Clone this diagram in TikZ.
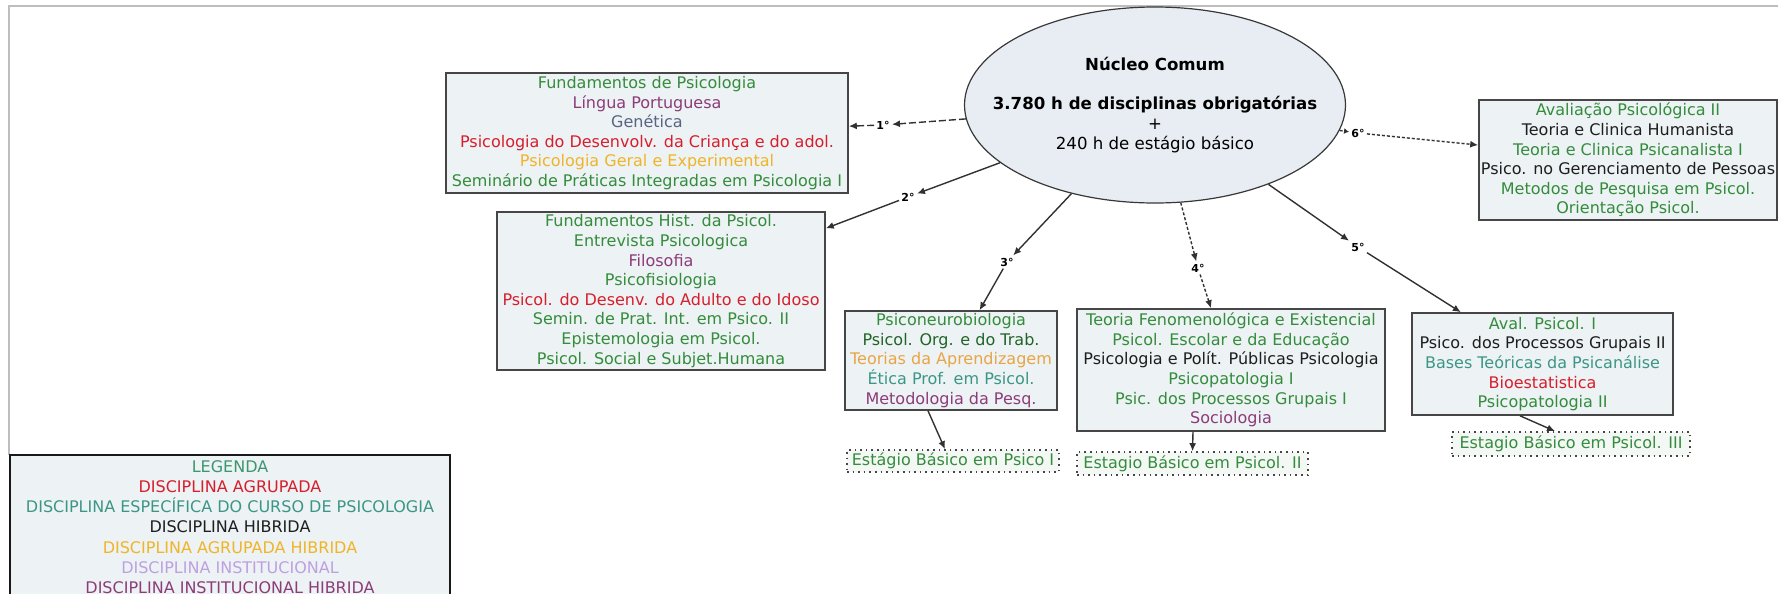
\documentclass[tikz,border=0pt]{standalone}
\usepackage{fontspec}
\setmainfont{DejaVu Sans}
\usetikzlibrary{shapes.geometric,arrows.meta}
\definecolor{cgreen}{RGB}{52,140,60}
\definecolor{cdgreen}{RGB}{34,100,40}
\definecolor{cplum}{RGB}{140,60,120}
\definecolor{cslate}{RGB}{90,100,130}
\definecolor{cred}{RGB}{215,30,45}
\definecolor{cyellow}{RGB}{240,180,40}
\definecolor{corange}{RGB}{232,165,70}
\definecolor{cteal}{RGB}{60,150,135}
\definecolor{cdark}{RGB}{30,30,30}
\definecolor{clav}{RGB}{190,160,225}
\definecolor{clegend}{RGB}{60,150,110}
\definecolor{boxfill}{RGB}{237,242,244}
\definecolor{ellfill}{RGB}{231,237,243}
\definecolor{stagefill}{RGB}{244,248,245}
\definecolor{edgec}{RGB}{70,70,70}
\definecolor{framec}{RGB}{190,190,190}
\newcommand{\tg}[1]{{\color{cgreen}#1}}
\newcommand{\tdg}[1]{{\color{cdgreen}#1}}
\newcommand{\tpl}[1]{{\color{cplum}#1}}
\newcommand{\tsl}[1]{{\color{cslate}#1}}
\newcommand{\trd}[1]{{\color{cred}#1}}
\newcommand{\tye}[1]{{\color{cyellow}#1}}
\newcommand{\tor}[1]{{\color{corange}#1}}
\newcommand{\tte}[1]{{\color{cteal}#1}}
\newcommand{\tbk}[1]{{\color{cdark}#1}}
\newcommand{\tlv}[1]{{\color{clav}#1}}
\tikzset{
 conceptbox/.style={draw=edgec, line width=0.8pt, fill=boxfill, inner sep=0pt},
 concept/.style={conceptbox, align=center, font=\fontsize{8}{9.8}\selectfont},
 stagebox/.style={draw=edgec, dotted, line width=0.8pt, fill=stagefill, inner sep=0pt, text=cgreen, font=\fontsize{8}{9.8}\selectfont},
 lbl/.style={inner sep=1pt, font=\fontsize{5.5}{6}\selectfont\bfseries},
 conn/.style={draw=edgec!70!black, line width=0.7pt, -{Latex[length=4pt,width=3.5pt]}},
 dconn/.style={conn, dash pattern=on 3.5pt off 1.5pt},
 tconn/.style={conn, dash pattern=on 1.5pt off 1pt},
}
\begin{document}
\begin{tikzpicture}[x=0.5pt,y=-0.5pt]
\useasboundingbox (0,0) rectangle (1778,594);
\draw[framec, line width=1pt] (9,455) -- (9,6) -- (1790,6);

% core ellipse
\node[ellipse, draw=edgec!80!black, line width=0.6pt, fill=ellfill, minimum width=190.5pt, minimum height=98pt, inner sep=0pt] (core) at (1155,105) {};
\node[inner sep=0pt, align=center, font=\fontsize{8.3}{9.8}\selectfont] (coretext) at (core.center)
 {\textbf{Núcleo Comum}\\[9.8pt]\textbf{3.780 h de disciplinas obrigatórias}\\+\\240 h de estágio básico};

% 1st semester
\node[concept, minimum width=201pt, minimum height=60pt] (b1) at (647,133)
 {\tg{Fundamentos de Psicologia}\\\tpl{Língua Portuguesa}\\\tsl{Genética}\\\trd{Psicologia do Desenvolv. da Criança e do adol.}\\\tye{Psicologia Geral e Experimental}\\\tg{Seminário de Práticas Integradas em Psicologia I}};

% 2nd
\node[concept, minimum width=164pt, minimum height=79pt] (b2) at (661,291)
 {\tg{Fundamentos Hist. da Psicol.}\\\tg{Entrevista Psicologica}\\\tpl{Filosofia}\\\tg{Psicofisiologia}\\\trd{Psicol. do Desenv. do Adulto e do Idoso}\\\tg{Semin. de Prat. Int. em Psico. II}\\\tg{Epistemologia em Psicol.}\\\tg{Psicol. Social e Subjet.Humana}};

% 3rd
\node[concept, minimum width=106pt, minimum height=49.5pt] (b3) at (951,360.5)
 {\tg{Psiconeurobiologia}\\\tdg{Psicol. Org. e do Trab.}\\\tor{Teorias da Aprendizagem}\\\tte{Ética Prof. em Psicol.}\\\tpl{Metodologia da Pesq.}};
\node[stagebox, minimum width=106pt, minimum height=11pt] (s1) at (953,461) {Estágio Básico em Psico I};

% 4th
\node[concept, minimum width=154pt, minimum height=61pt] (b4) at (1231,370)
 {\tg{Teoria Fenomenológica e Existencial}\\\tg{Psicol. Escolar e da Educação}\\\tbk{Psicologia e Polít. Públicas Psicologia}\\\tg{Psicopatologia I}\\\tg{Psic. dos Processos Grupais I}\\\tpl{Sociologia}};
\node[stagebox, minimum width=115.5pt, minimum height=11.5pt] (s2) at (1192.5,463.5) {Estagio Básico em Psicol. II};

% 5th
\node[concept, minimum width=130.5pt, minimum height=51pt] (b5) at (1542.5,364)
 {\tg{Aval. Psicol. I}\\\tbk{Psico. dos Processos Grupais II}\\\tte{Bases Teóricas da Psicanálise}\\\trd{Bioestatistica}\\\tg{Psicopatologia II}};
\node[stagebox, minimum width=119pt, minimum height=12pt] (s3) at (1571,444) {Estagio Básico em Psicol. III};

% 6th
\node[concept, minimum width=149pt, minimum height=60pt] (b6) at (1628,160)
 {\tg{Avaliação Psicológica II}\\\tbk{Teoria e Clinica Humanista}\\\tg{Teoria e Clinica Psicanalista I}\\\tbk{Psico. no Gerenciamento de Pessoas}\\\tg{Metodos de Pesquisa em Psicol.}\\\tg{Orientação Psicol.}};

% legend
\node[draw=black!90, line width=1.3pt, fill=boxfill, minimum width=220pt, minimum height=75pt, inner sep=0pt] (leg) at (230,530) {};
\node[inner sep=0pt, align=center, font=\fontsize{8}{10.1}\selectfont] (legtext) at (230,527)
 {{\color{clegend}LEGENDA}\\\trd{DISCIPLINA AGRUPADA}\\\tte{DISCIPLINA ESPECÍFICA DO CURSO DE PSICOLOGIA}\\\tbk{DISCIPLINA HIBRIDA}\\\tye{DISCIPLINA AGRUPADA HIBRIDA}\\\tlv{DISCIPLINA INSTITUCIONAL}\\\tpl{DISCIPLINA INSTITUCIONAL HIBRIDA}};

% linking labels
\node[lbl] (l1) at (883,125) {1°};
\node[lbl] (l2) at (908,197) {2°};
\node[lbl] (l3) at (1007,262) {3°};
\node[lbl] (l4) at (1198,268) {4°};
\node[lbl] (l5) at (1358,247) {5°};
\node[lbl] (l6) at (1358,133) {6°};

\draw[dconn] (core) -- (l1);
\draw[dconn] (l1) -- (b1);
\draw[conn] (core) -- (l2);
\draw[conn] (l2) -- (b2);
\draw[conn] (core) -- (l3);
\draw[conn] (l3) -- (b3);
\draw[tconn] (core) -- (l4);
\draw[tconn] (l4) -- (b4);
\draw[conn] (core) -- (l5);
\draw[conn] (l5) -- (b5);
\draw[tconn, -{Latex[length=2.5pt,width=3pt]}] (core) -- (l6);
\draw[tconn] (l6) -- (b6);

\draw[conn] ([xshift=-11.5pt]b3.south) -- ([xshift=-4pt]s1.north);
\draw[conn] ([xshift=-19pt]b4.south) -- (s2.north);
\draw[conn] ([xshift=-11.25pt]b5.south) -- ([xshift=-8pt]s3.north);
\end{tikzpicture}
\end{document}
